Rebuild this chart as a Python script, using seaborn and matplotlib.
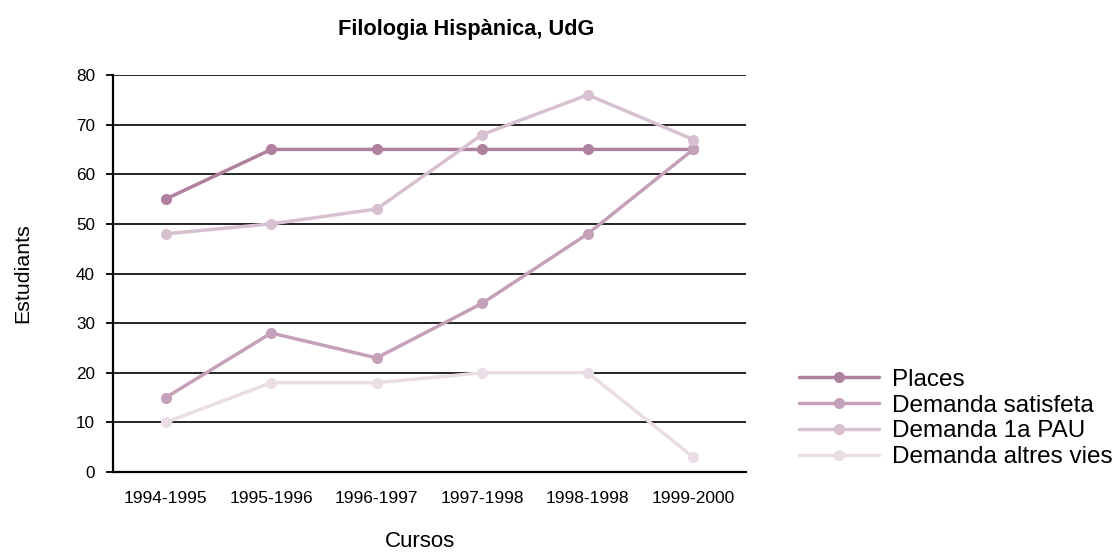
import numpy as np
import pandas as pd
import seaborn as sns
from matplotlib import pyplot as plt
from matplotlib.ticker import FixedLocator

# data
cursos = ["1994-1995", "1995-1996", "1996-1997", "1997-1998", "1998-1998", "1999-2000"]
places = [55, 65, 65, 65, 65, 65]
demanda_satisfeta = [15, 28, 23, 34, 48, 65]
demanda_pau = [48, 50, 53, 68, 76, 67]
demanda_altres = [10, 18, 18, 20, 20, 3]

series = ["Places", "Demanda satisfeta", "Demanda 1a PAU", "Demanda altres vies"]
colors = ["#b0809f", "#c4a0b9", "#d7c0d0", "#eadde6"]

df = pd.DataFrame({
    "pos": list(range(len(cursos))) * 4,
    "valor": places + demanda_satisfeta + demanda_pau + demanda_altres,
    "serie": np.repeat(series, len(cursos)),
})

sns.set_style("white")
plt.rcParams["font.family"] = ["Liberation Sans", "DejaVu Sans"]
plt.rcParams["text.color"] = "black"
plt.rcParams["axes.labelcolor"] = "black"
plt.rcParams["xtick.color"] = "black"
plt.rcParams["ytick.color"] = "black"

fig = plt.figure(figsize=(11.14, 5.55), dpi=100)
ax = fig.add_axes([0.1014, 0.1495, 0.5683, 0.7154])

sns.lineplot(data=df, x="pos", y="valor", hue="serie", hue_order=series,
             palette=colors, marker="o", markersize=8, markeredgewidth=0,
             linewidth=2.5, ax=ax)

ax.set_xlim(-0.5, len(cursos) - 0.5)
ax.set_ylim(0, 80)
ax.set_yticks(range(0, 81, 10))
ax.yaxis.grid(True, color="black", linewidth=1.2, zorder=0)
ax.set_axisbelow(True)

ax.set_xticks(range(len(cursos)))
ax.set_xticklabels(cursos, fontsize=12.5)
ax.xaxis.set_minor_locator(FixedLocator(np.arange(-0.5, len(cursos), 1.0)))
ax.tick_params(axis="x", which="major", length=0, pad=14)
ax.tick_params(axis="x", which="minor", direction="in", length=8, width=1.3, color="black")
ax.tick_params(axis="y", which="major", direction="out", length=5, width=1.3,
               color="black", labelsize=12.3, left=True, pad=8)

for s in ["top", "right"]:
    ax.spines[s].set_visible(False)
for s in ["left", "bottom"]:
    ax.spines[s].set_color("black")
    ax.spines[s].set_linewidth(1.6)

ax.set_xlabel("Cursos", fontsize=16, labelpad=18, x=0.485)
ax.set_ylabel("Estudiants", fontsize=15.4, labelpad=31)
ax.set_title("Filologia Hispànica, UdG", fontsize=15.7, fontweight="bold",
             x=0.558, pad=29)

leg = ax.legend(loc="upper left", bbox_to_anchor=(1.068, 0.285), frameon=False,
                fontsize=17.5, handlelength=3.3, handletextpad=0.55,
                labelspacing=0.16, borderaxespad=0)

fig.savefig("out.png", dpi=100)
